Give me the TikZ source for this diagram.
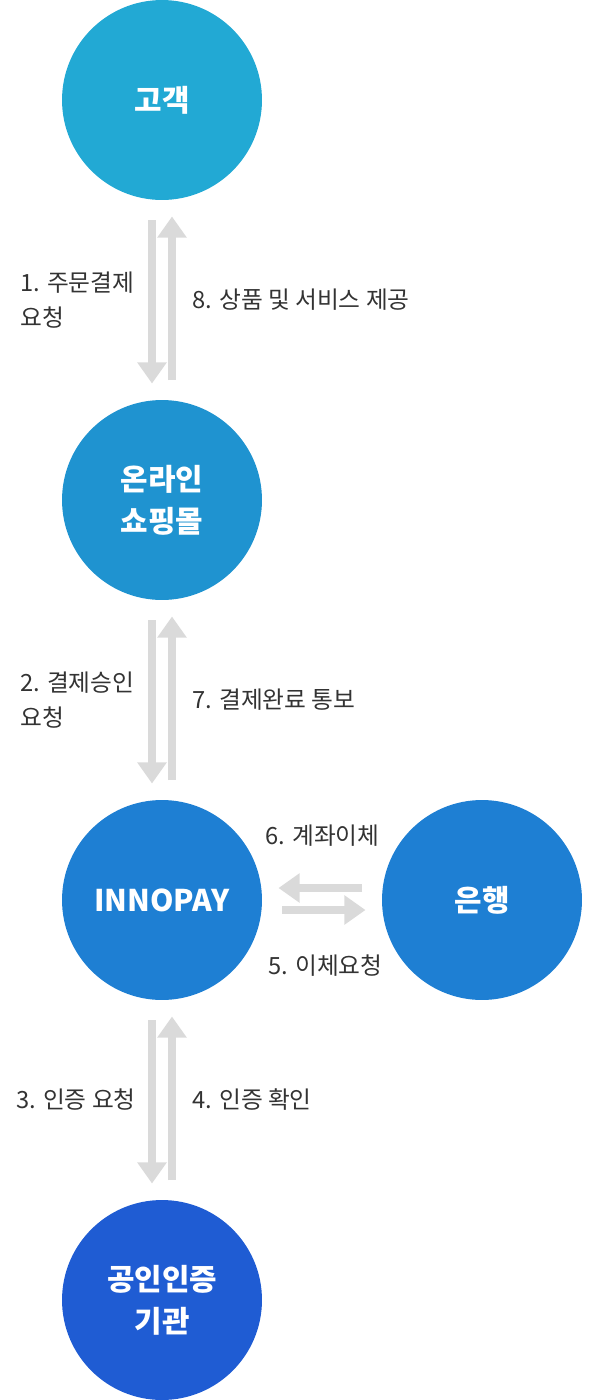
\documentclass[tikz,border=0pt]{standalone}
\usepackage{fontspec}
\setmainfont{Noto Sans CJK KR}
\usetikzlibrary{arrows.meta}
\definecolor{cA}{HTML}{22A9D4}
\definecolor{cB}{HTML}{1F93D0}
\definecolor{cC}{HTML}{1E7FD3}
\definecolor{cD}{HTML}{1F5CD3}
\definecolor{arr}{HTML}{DADADA}
\definecolor{txt}{HTML}{333333}

\begin{document}
\begin{tikzpicture}[x=0.02cm,y=-0.02cm,
    party/.style={circle, minimum size=4cm, inner sep=0pt, text=white, font=\bfseries\fontsize{17}{24}\selectfont, align=center},
    flow/.style={draw=arr, line width=4pt, -{Triangle[length=12pt,width=16pt]}, shorten >=-2pt},
    step label/.style={text=txt, font=\fontsize{13.5}{20}\selectfont, align=left, anchor=west, inner sep=0pt}]
    \useasboundingbox (0,0) rectangle (600,1400);

    \node[party, fill=cA] (customer) at (162,100) {고객};
    \node[party, fill=cB] (mall) at (162,500) {온라인\\쇼핑몰};
    \node[party, fill=cC] (innopay) at (162,900) {INNOPAY};
    \node[party, fill=cC] (bank) at (482,900) {은행};
    \node[party, fill=cD] (cert) at (162,1300) {공인인증\\기관};

    % vertical pairs
    \foreach \top/\bot in {220/370, 620/770, 1020/1170} {
        \coordinate (dtop) at (152,\top);
        \coordinate (dbot) at (152,\bot+10);
        \coordinate (utop) at (172,\top);
        \coordinate (ubot) at (172,\bot+10);
        \draw[flow] (dtop) -- (dbot);
        \draw[flow] (ubot) -- (utop);
    }
    % horizontal pair
    \coordinate (lr) at (362,888);
    \coordinate (ll) at (282,888);
    \coordinate (rl) at (282,910);
    \coordinate (rr) at (362,910);
    \draw[flow] (lr) -- (ll);
    \draw[flow] (rl) -- (rr);

    \node[step label] (s1) at (20,300) {1. 주문결제\\요청};
    \node[step label] (s8) at (192,300) {8. 상품 및 서비스 제공};
    \node[step label] (s2) at (20,700) {2. 결제승인\\요청};
    \node[step label] (s7) at (192,700) {7. 결제완료 통보};
    \node[step label] (s6) at (265,836) {6. 계좌이체};
    \node[step label] (s5) at (268,966) {5. 이체요청};
    \node[step label] (s3) at (16,1100) {3. 인증 요청};
    \node[step label] (s4) at (192,1100) {4. 인증 확인};
\end{tikzpicture}
\end{document}
